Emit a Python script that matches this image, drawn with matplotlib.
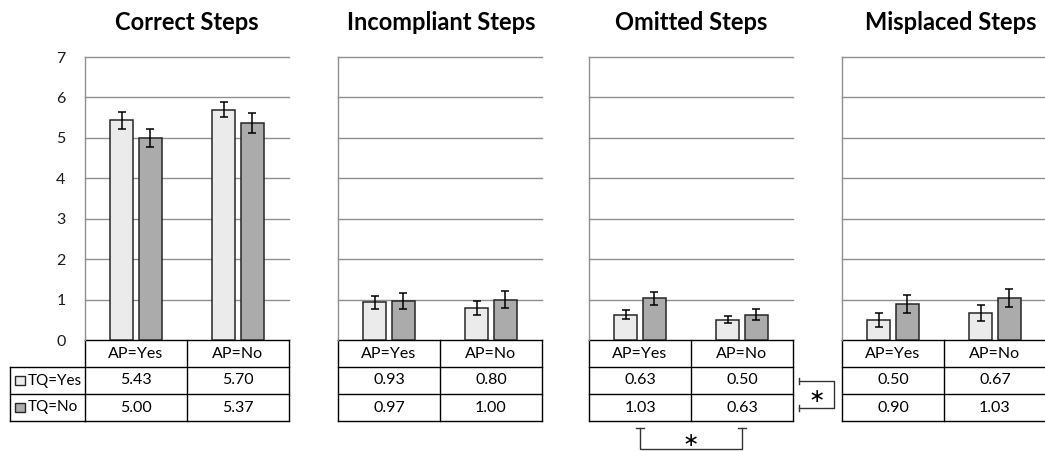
import matplotlib
matplotlib.use("Agg")
import matplotlib.pyplot as plt
from matplotlib.patches import Rectangle
import numpy as np

plt.rcParams['font.family'] = ['Lato', 'DejaVu Sans']

# Data ------------------------------------------------------------------------------
panels = ["Correct Steps", "Incompliant Steps", "Omitted Steps", "Misplaced Steps"]
categories = ["AP=Yes", "AP=No"]
series = ["TQ=Yes", "TQ=No"]
tq_yes = [[5.43, 5.70], [0.93, 0.80], [0.63, 0.50], [0.50, 0.67]]
tq_no = [[5.00, 5.37], [0.97, 1.00], [1.03, 0.63], [0.90, 1.03]]
err_yes = [[0.20, 0.18], [0.17, 0.17], [0.12, 0.09], [0.17, 0.20]]
err_no = [[0.22, 0.25], [0.20, 0.22], [0.16, 0.13], [0.22, 0.22]]
y_ticks = [0, 1, 2, 3, 4, 5, 6, 7]

light = '#ebebeb'
dark = '#ababab'
edge = '#262626'
grid_col = '#8f8f8f'

W, H = 1045, 451
fig = plt.figure(figsize=(W / 100, H / 100), dpi=100)

# panel geometry in pixels
lefts = [85, 338, 589, 842]
title_x = [187, 441, 691, 951]
ax_w, ax_top, ax_bot = 204, 57, 340
row_h = 27 / (ax_bot - ax_top)   # table row height in axes units
bar_w, off = 0.225, 0.142


def line(ax, xs, ys, **kw):
    ax.plot(xs, ys, transform=ax.transAxes, clip_on=False, **kw)


axes = []
for i, name in enumerate(panels):
    ax = fig.add_axes([lefts[i] / W, (H - ax_bot) / H, ax_w / W, (ax_bot - ax_top) / H])
    axes.append(ax)
    x = np.arange(len(categories))
    ax.bar(x - off, tq_yes[i], bar_w, color=light, edgecolor=edge, linewidth=1.1, zorder=3)
    ax.bar(x + off, tq_no[i], bar_w, color=dark, edgecolor=edge, linewidth=1.1, zorder=3)
    ax.errorbar(x - off, tq_yes[i], yerr=err_yes[i], fmt='none', ecolor='black',
                elinewidth=1.1, capsize=2.6, capthick=1.1, zorder=4)
    ax.errorbar(x + off, tq_no[i], yerr=err_no[i], fmt='none', ecolor='black',
                elinewidth=1.1, capsize=2.6, capthick=1.1, zorder=4)

    ax.set_xlim(-0.5, 1.5)
    ax.set_ylim(0, 7)
    ax.set_yticks(y_ticks)
    ax.set_xticks([])
    for yv in y_ticks[1:]:
        ax.axhline(yv, color=grid_col, linewidth=1.0, zorder=1, clip_on=False)
    for s in ['top', 'right', 'bottom']:
        ax.spines[s].set_visible(False)
    ax.spines['left'].set_color(grid_col)
    ax.spines['left'].set_linewidth(1.0)
    ax.tick_params(axis='y', length=0, pad=14, labelsize=11.5, labelcolor='#1a1a1a')
    if i > 0:
        ax.set_yticklabels([])

    fig.text(title_x[i] / W, 1 - 22 / H, name, ha='center', va='center',
             fontsize=17, fontweight='bold')

    # data table under the bars
    n_rows = 3
    for r in range(n_rows + 1):
        line(ax, [0, 1], [-r * row_h] * 2, color='black', linewidth=1.0)
    for xv in [0, 0.5, 1]:
        line(ax, [xv, xv], [0, -n_rows * row_h], color='black', linewidth=1.0)
    rows = [categories,
            ["%.2f" % v for v in tq_yes[i]],
            ["%.2f" % v for v in tq_no[i]]]
    for r, vals in enumerate(rows):
        for c, v in enumerate(vals):
            ax.text(0.25 + 0.5 * c, -(r + 0.5) * row_h, v, transform=ax.transAxes,
                    ha='center', va='center', fontsize=11.5)

# legend column of the first table
ax = axes[0]
lx = (10 - lefts[0]) / ax_w
for r in [1, 2, 3]:
    line(ax, [lx, 0], [-r * row_h] * 2, color='black', linewidth=1.0)
line(ax, [lx, lx], [-row_h, -3 * row_h], color='black', linewidth=1.0)
for k, (lab, col) in enumerate(zip(series, [light, dark])):
    yc = -(k + 1.5) * row_h
    sq_w, sq_h = 10 / ax_w, 9 / (ax_bot - ax_top)
    ax.add_patch(Rectangle(((15 - lefts[0]) / ax_w, yc - sq_h / 2), sq_w, sq_h,
                           transform=ax.transAxes, facecolor=col, edgecolor=edge,
                           linewidth=1.0, clip_on=False))
    ax.text((28 - lefts[0]) / ax_w, yc, lab, transform=ax.transAxes,
            ha='left', va='center', fontsize=11)

# significance brackets on the omitted steps panel
ax = axes[2]
ah = ax_bot - ax_top
y1, y2 = -1.5 * row_h, -2.5 * row_h
xa, xb = (799 - lefts[2]) / ax_w, (834 - lefts[2]) / ax_w
kw = dict(color='#333333', linewidth=1.0)
line(ax, [xa, xb, xb, xa], [y1, y1, y2, y2], **kw)
for yv in [y1, y2]:
    line(ax, [xa, xa], [yv - 3 / ah, yv + 3 / ah], **kw)
ax.text((817 - lefts[2]) / ax_w, (ax_bot - 397) / ah, '\u2217', transform=ax.transAxes,
        ha='center', va='center', fontsize=14, family='DejaVu Sans')

ya, yb = (ax_bot - 428) / ah, (ax_bot - 449) / ah
xl, xr = 0.25, 0.75
line(ax, [xl, xl, xr, xr], [ya, yb, yb, ya], **kw)
for xv in [xl, xr]:
    line(ax, [xv - 4 / ax_w, xv + 4 / ax_w], [ya, ya], **kw)
ax.text(0.5, (ax_bot - 440) / ah, '\u2217', transform=ax.transAxes,
        ha='center', va='center', fontsize=14, family='DejaVu Sans')

fig.savefig('out.png', dpi=100, facecolor='white')
